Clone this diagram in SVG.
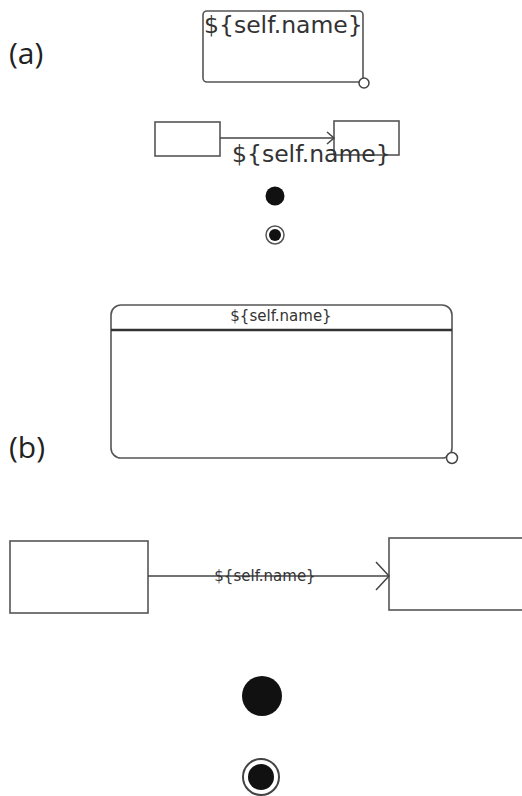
<svg xmlns="http://www.w3.org/2000/svg" width="522" height="796" viewBox="0 0 522 796">
<style>
.box{fill:#fff;stroke:#555;stroke-width:1.6}
.lbl{font-family:"DejaVu Sans",sans-serif;fill:#333}
.cap{font-family:"Open Sans","Liberation Sans",sans-serif;font-size:30px;fill:#222}
.conn{fill:none;stroke:#444;stroke-width:1.5}
.port{fill:#fff;stroke:#444;stroke-width:1.5}
</style>
<rect width="522" height="796" fill="#fff"/>
<text class="cap" x="9" y="64">(a)</text>
<text class="cap" x="9" y="458">(b)</text>
<g id="a-state">
<rect class="box" x="203" y="11" width="160" height="71" rx="4"/>
<text class="lbl" x="204" y="33" font-size="23.5">${self.name}</text>
<circle class="port" cx="364" cy="83" r="5"/>
</g>
<g id="a-src"><rect class="box" x="155" y="122" width="65" height="34"/></g>
<g id="a-dst"><rect class="box" x="334" y="121" width="65" height="34"/></g>
<g id="a-initial"><circle cx="275" cy="196" r="9.5" fill="#111"/></g>
<g id="a-final"><circle cx="275" cy="235" r="9" fill="#fff" stroke="#555" stroke-width="1.5"/><circle cx="275" cy="235" r="6" fill="#111"/></g>
<g id="b-state">
<rect class="box" x="111" y="305" width="341" height="153" rx="10"/>
<line x1="111" y1="330" x2="452" y2="330" stroke="#333" stroke-width="2.5"/>
<text class="lbl" x="281" y="321" font-size="15" text-anchor="middle">${self.name}</text>
<circle class="port" cx="452" cy="458" r="5.5"/>
</g>
<g id="b-src"><rect class="box" x="10" y="541" width="138" height="72"/></g>
<g id="b-dst"><rect class="box" x="389" y="538" width="140" height="72"/></g>
<g id="b-initial"><circle cx="262" cy="696" r="20" fill="#111"/></g>
<g id="b-final"><circle cx="261" cy="777" r="18" fill="#fff" stroke="#444" stroke-width="2"/><circle cx="261" cy="777" r="13" fill="#111"/></g>
<g id="connectors">
<line class="conn" x1="220" y1="138" x2="334" y2="138"/>
<polyline class="conn" points="327,132 334,138 327,144"/>
<text class="lbl" x="232" y="162" font-size="23.5">${self.name}</text>
<line class="conn" x1="148" y1="576" x2="389" y2="576"/>
<polyline class="conn" points="376,562 389,576 376,590"/>
<text class="lbl" x="265" y="581" font-size="15" text-anchor="middle">${self.name}</text>
</g>
</svg>
